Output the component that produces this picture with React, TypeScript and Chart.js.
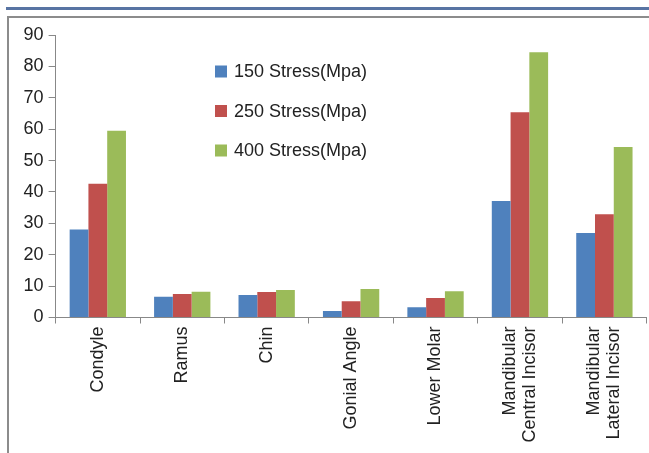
import React, { useEffect, useRef } from "react";
import { Chart, registerables } from "chart.js";

Chart.register(...registerables);

const categories: (string | string[])[] = [
  "Condyle",
  "Ramus",
  "Chin",
  "Gonial Angle",
  "Lower Molar",
  ["Mandibular", "Central Incisor"],
  ["Mandibular", "Lateral Incisor"],
];

const seriesLabels = ["150 Stress(Mpa)", "250 Stress(Mpa)", "400 Stress(Mpa)"];
const stress150 = [28.0, 6.6, 7.2, 2.1, 3.3, 37.1, 26.9];
const stress250 = [42.6, 7.5, 8.1, 5.2, 6.2, 65.4, 32.9];
const stress400 = [59.5, 8.2, 8.8, 9.1, 8.4, 84.5, 54.3];
const yTicks = [0, 10, 20, 30, 40, 50, 60, 70, 80, 90];

const colors = ["#4f81bd", "#c0504d", "#9bbb59"];
const FONT = '"Liberation Sans", Arial, sans-serif';
const FS = 18;

const legendPlugin = {
  id: "insideLegend",
  afterDraw(chart: any) {
    const ctx = chart.ctx;
    ctx.save();
    chart.data.datasets.forEach((ds: any, i: number) => {
      const cy = 71.5 + i * 39.5;
      ctx.fillStyle = ds.backgroundColor;
      ctx.fillRect(215, cy - 6, 12, 12);
      ctx.fillStyle = "#222";
      ctx.font = `${FS}px ${FONT}`;
      ctx.textAlign = "left";
      ctx.textBaseline = "middle";
      ctx.fillText(ds.label, 234, cy + 1);
    });
    ctx.restore();
  },
};

// Center multi-line rotated category labels on their tick
const centerLabelsPlugin = {
  id: "centerMultiLine",
  beforeDraw(chart: any) {
    const s = chart.scales.x;
    if (!s) return;
    const items = s.getLabelItems(chart.chartArea);
    items.forEach((it: any) => {
      if (Array.isArray(it.label) && !it.__centered) {
        it.textOffset -= ((it.label.length - 1) * it.font.lineHeight) / 2;
        it.__centered = true;
      }
    });
  },
};

export default function App() {
  const ref = useRef<HTMLCanvasElement | null>(null);

  useEffect(() => {
    if (!ref.current) return;
    const data = [stress150, stress250, stress400];
    const chart = new Chart(ref.current, {
      type: "bar",
      data: {
        labels: categories,
        datasets: seriesLabels.map((label, i) => ({
          label,
          data: data[i],
          backgroundColor: colors[i],
          borderWidth: 0,
          barPercentage: 1,
          categoryPercentage: 0.667,
        })),
      },
      options: {
        animation: false,
        responsive: false,
        layout: { padding: { left: 0, top: 35, right: 2.4, bottom: 0 } },
        plugins: {
          legend: { display: false },
          tooltip: { enabled: false },
        },
        scales: {
          x: {
            grid: {
              display: true,
              drawOnChartArea: false,
              drawTicks: true,
              tickLength: 6,
              color: "#888",
              offset: true,
            },
            border: { color: "#888", width: 1 },
            ticks: {
              minRotation: 90,
              maxRotation: 90,
              padding: 3,
              color: "#222",
              font: { family: FONT, size: FS, lineHeight: 1.12 },
              autoSkip: false,
            },
            afterFit: (s: any) => {
              s.height = 453 - 317.5;
            },
          },
          y: {
            min: 0,
            max: 90,
            afterBuildTicks: (s: any) => {
              s.ticks = yTicks.map((v) => ({ value: v }));
            },
            grid: {
              display: true,
              drawOnChartArea: false,
              drawTicks: true,
              tickLength: 7,
              color: "#888",
            },
            border: { color: "#888", width: 1 },
            ticks: {
              padding: 5,
              color: "#222",
              font: { family: FONT, size: FS },
            },
            afterFit: (s: any) => {
              s.width = 55.6;
            },
          },
        },
      },
      plugins: [centerLabelsPlugin, legendPlugin],
    });
    return () => chart.destroy();
  }, []);

  return (
    <div style={{ position: "absolute", left: 0, top: 0, width: 649, height: 453, overflow: "hidden", background: "#fff" }}>
      <div style={{ position: "absolute", left: 6, top: 7, width: 643, height: 3, background: "#5874a3" }} />
      <div
        style={{
          position: "absolute",
          left: 7,
          top: 16,
          width: 700,
          height: 500,
          borderLeft: "2px solid #8c8c8c",
          borderTop: "2px solid #8c8c8c",
        }}
      />
      <canvas ref={ref} width={649} height={453} style={{ position: "absolute", left: 0, top: 0 }} />
    </div>
  );
}
